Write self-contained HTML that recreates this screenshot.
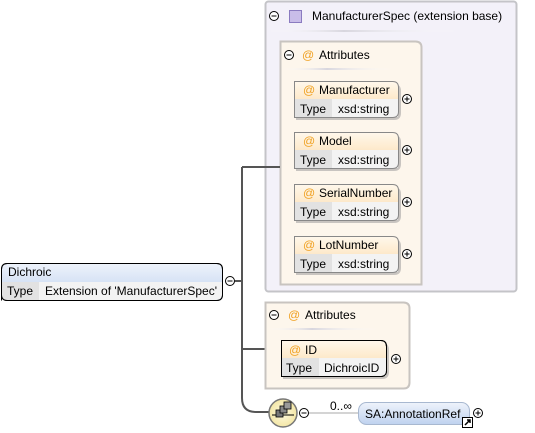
<html><body style="margin:0;width:535px;height:433px;background:#fff;overflow:hidden">
<svg width="535" height="433" xmlns="http://www.w3.org/2000/svg" font-family="Liberation Sans, sans-serif" font-size="12">
<defs>
<linearGradient id="bl" x1="0" y1="0" x2="0" y2="1"><stop offset="0" stop-color="#eef3fb"/><stop offset="1" stop-color="#bfd2ef"/></linearGradient>
<linearGradient id="or" x1="0" y1="0" x2="0" y2="1"><stop offset="0" stop-color="#fff8ec"/><stop offset="1" stop-color="#fbd9a6"/></linearGradient>
<linearGradient id="sep" x1="0" y1="0" x2="1" y2="0"><stop offset="0" stop-color="#fff" stop-opacity="0"/><stop offset=".4" stop-color="#d8d6de"/><stop offset="1" stop-color="#fff" stop-opacity="0"/></linearGradient>
<radialGradient id="yl"><stop offset="0" stop-color="#fffbe0"/><stop offset="1" stop-color="#f3e6a6"/></radialGradient>
<g id="node">
<path d="M296 120 V84 H394 Q401 84 401 91 V113 Q401 120 394 120 Z" fill="#c8c4c0"/>
<path d="M294.5 117.5 V81.5 H392.5 Q398.5 81.5 398.5 87.5 V111.5 Q398.5 117.5 392.5 117.5 Z" fill="url(#or)"/>
<rect x="295" y="99" width="103" height="18" fill="#f3f3f3"/><rect x="295" y="99" width="37" height="18" fill="#e2e2e2"/>
<path d="M294.5 117.5 V81.5 H392.5 Q398.5 81.5 398.5 87.5 V111.5 Q398.5 117.5 392.5 117.5 Z" fill="none" stroke="#888"/>
<text x="303" y="94" fill="#f0a020">@</text><text x="300" y="113">Type</text><text x="338" y="113">xsd:string</text>
<circle cx="407" cy="99" r="4.5" fill="#fff" stroke="#000"/><path d="M404.5 99H409.5M407 96.5V101.5" stroke="#000"/>
</g>
</defs>
<rect x="265.5" y="1.5" width="251" height="290" rx="3" fill="#f3f1f9" stroke="#c4c4c8" stroke-width="2"/>
<circle cx="274" cy="16" r="4.5" fill="#fff" stroke="#000"/><line x1="271.5" y1="16" x2="276.5" y2="16" stroke="#000"/>
<rect x="289.5" y="10.5" width="12" height="12" fill="#c9bde9" stroke="#8a7bc0"/>
<text x="312" y="20" fill="#000">ManufacturerSpec (extension base)</text>
<rect x="268" y="30" width="190" height="2" fill="url(#sep)"/>
<path d="M280.5 284.5 V41.5 H415.5 Q421.5 41.5 421.5 47.5 V284.5 Z" fill="#fdf6ec" stroke="#c8c4c0" stroke-width="2"/>
<circle cx="289" cy="55" r="4.5" fill="#fff" stroke="#000"/><line x1="286.5" y1="55" x2="291.5" y2="55" stroke="#000"/>
<text x="302" y="59" fill="#f0a020">@</text><text x="319" y="59">Attributes</text>
<rect x="283" y="68" width="110" height="2" fill="url(#sep)"/>
<use href="#node"/><text x="319" y="94">Manufacturer</text>
<use href="#node" y="51"/><text x="319" y="145">Model</text>
<use href="#node" y="103"/><text x="319" y="197">SerialNumber</text>
<use href="#node" y="155"/><text x="319" y="249">LotNumber</text>
<path d="M235 281H242 M242 167V398 Q242 412 256 412 H270 M242 167H280 M242 349H281" fill="none" stroke="#555" stroke-width="2"/>
<path d="M1.5 300.5 V269.5 Q1.5 263.5 7.5 263.5 H216.5 Q222.5 263.5 222.5 269.5 V294.5 Q222.5 300.5 216.5 300.5 H7.5 Q1.5 300.5 1.5 294.5Z" fill="url(#bl)" stroke="#000"/>
<path d="M2 282 H222 V294 Q222 300 216 300 H8 Q2 300 2 294Z" fill="#f3f3f3"/><rect x="2" y="282" width="37" height="18" fill="#e2e2e2"/>
<path d="M1.5 300.5 V269.5 Q1.5 263.5 7.5 263.5 H216.5 Q222.5 263.5 222.5 269.5 V294.5 Q222.5 300.5 216.5 300.5 H7.5 Q1.5 300.5 1.5 294.5Z" fill="none" stroke="#000"/>
<text x="8" y="276">Dichroic</text><text x="7" y="295">Type</text><text x="45" y="295">Extension of 'ManufacturerSpec'</text>
<circle cx="230" cy="281" r="4.5" fill="#fff" stroke="#000"/><line x1="227.5" y1="281" x2="232.5" y2="281" stroke="#000"/>
<path d="M265.5 388.5 V302.5 H403.5 Q409.5 302.5 409.5 308.5 V382.5 Q409.5 388.5 403.5 388.5 Z" fill="#fdf6ec" stroke="#c8c4c0" stroke-width="2"/>
<circle cx="274" cy="315" r="4.5" fill="#fff" stroke="#000"/><line x1="271.5" y1="315" x2="276.5" y2="315" stroke="#000"/>
<text x="288" y="319" fill="#f0a020">@</text><text x="305" y="319">Attributes</text>
<rect x="268" y="328" width="110" height="2" fill="url(#sep)"/>
<path d="M283 379 V343 H382 Q389 343 389 350 V372 Q389 379 382 379 Z" fill="#c8c4c0"/>
<path d="M281.5 376.5 V340.5 H380.5 Q386.5 340.5 386.5 346.5 V370.5 Q386.5 376.5 380.5 376.5 Z" fill="url(#or)" stroke="#000"/>
<rect x="282" y="358" width="104" height="18" fill="#f3f3f3"/><rect x="282" y="358" width="37" height="18" fill="#e2e2e2"/>
<path d="M281.5 376.5 V340.5 H380.5 Q386.5 340.5 386.5 346.5 V370.5 Q386.5 376.5 380.5 376.5 Z" fill="none" stroke="#000"/>
<text x="289" y="354" fill="#f0a020">@</text><text x="305" y="354">ID</text><text x="286" y="372">Type</text><text x="324" y="372">DichroicID</text>
<circle cx="396" cy="359" r="4.5" fill="#fff" stroke="#000"/><path d="M393.5 359H398.5M396 356.5V361.5" stroke="#000"/>
<circle cx="283" cy="413" r="14" fill="url(#yl)" stroke="#777" stroke-width="1.5"/>
<path d="M272 415H294" stroke="#000"/>
<rect x="276" y="410" width="7" height="7" fill="#777" stroke="#000" stroke-width=".8"/><rect x="280" y="406" width="7" height="7" fill="#888" stroke="#000" stroke-width=".8"/><rect x="284" y="402" width="7" height="7" fill="#999" stroke="#000" stroke-width=".8"/>
<circle cx="304" cy="413" r="4.5" fill="#fff" stroke="#000"/><line x1="301.5" y1="413" x2="306.5" y2="413" stroke="#000"/>
<line x1="309" y1="413" x2="359" y2="413" stroke="#aaa"/>
<text x="330" y="410">0..∞</text>
<rect x="358.5" y="402.5" width="111" height="22" rx="8" fill="url(#bl)" stroke="#a8b8d0"/>
<text x="365" y="418">SA:AnnotationRef</text>
<rect x="462.5" y="417.5" width="10" height="10" fill="#fff" stroke="#000"/><path d="M465 425L470 420M467 420H470V423" stroke="#000" stroke-width="1.5" fill="none"/>
<circle cx="478" cy="413" r="4.5" fill="#fff" stroke="#000"/><path d="M475.5 413H480.5M478 410.5V415.5" stroke="#000"/>
</svg>
</body></html>
